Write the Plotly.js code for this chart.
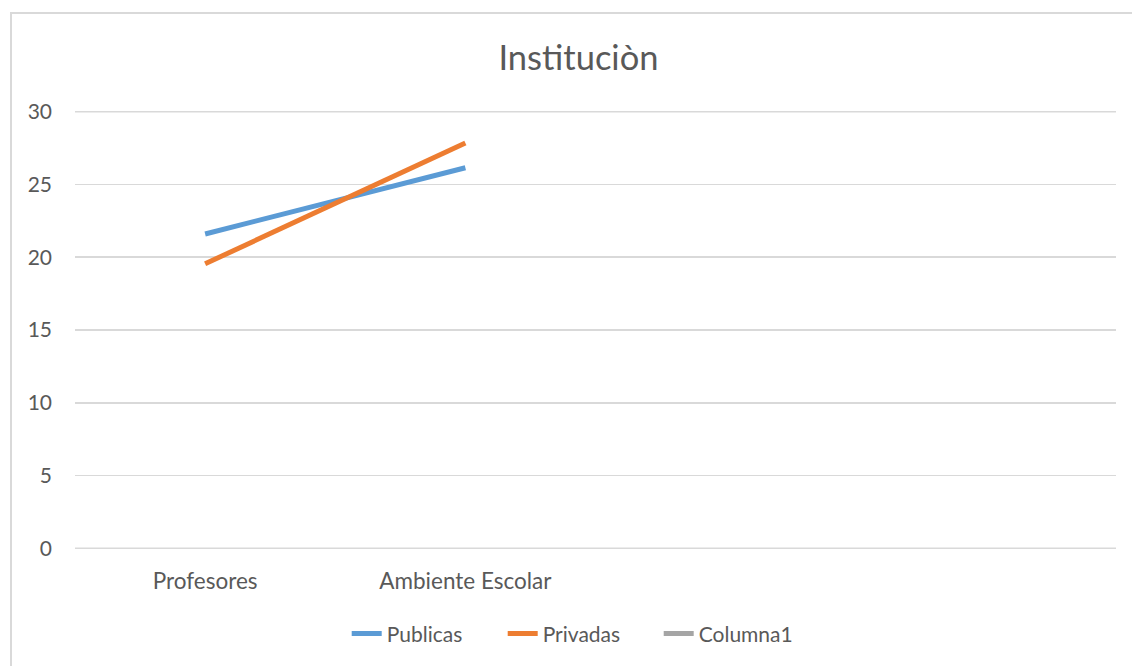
<!DOCTYPE html>
<html>
<head>
<meta charset="utf-8">
<script src="https://cdn.plot.ly/plotly-3.0.1.min.js"></script>
<style>
  html, body { margin: 0; padding: 0; background: #fff; }
  #frame { position: absolute; left: 10px; top: 12px; width: 1140px; height: 670px; border: 2px solid #d9d9d9; box-sizing: border-box; }
  #chart { position: absolute; left: 0; top: 0; width: 1132px; height: 666px; }
</style>
</head>
<body>
<div id="frame"></div>
<div id="chart"></div>
<script>
const categories = ["Profesores", "Ambiente Escolar"];
const publicas = [21.6, 26.15];
const privadas = [19.55, 27.85];
const columna1 = [null, null];
const yTicks = [0, 5, 10, 15, 20, 25, 30];

const font = "Lato, 'Open Sans', sans-serif";
const traces = [
  { name: "Publicas", x: categories, y: publicas, type: "scatter", mode: "lines",
    line: { color: "#5b9bd5", width: 5 } },
  { name: "Privadas", x: categories, y: privadas, type: "scatter", mode: "lines",
    line: { color: "#ed7d31", width: 5 } },
  { name: "Columna1", x: categories, y: columna1, type: "scatter", mode: "lines",
    line: { color: "#a5a5a5", width: 5 } }
];

// edge gridlines (Plotly omits gridlines lying on the plot-area border)
const edgeGrid = [yTicks[0], yTicks[yTicks.length - 1]].map(v => ({
  type: "line", xref: "paper", yref: "y", x0: 0, x1: 1, y0: v, y1: v,
  line: { color: "#d9d9d9", width: 1.5 }, layer: "below"
}));

const layout = {
  width: 1132, height: 666,
  paper_bgcolor: "rgba(0,0,0,0)", plot_bgcolor: "rgba(0,0,0,0)",
  margin: { l: 75, r: 16, t: 111, b: 113 },
  font: { family: font, color: "#595959", size: 21 },
  title: { text: "Instituciòn", x: 0.511, xanchor: "center", y: 0.913, yanchor: "middle",
    font: { family: font, size: 34.5, color: "#595959" } },
  xaxis: { type: "category", range: [-0.5, 3.5], showgrid: false, zeroline: false,
    showline: false, ticks: "", ticklabelstandoff: 16,
    tickfont: { size: 22.5, color: "#595959" }, fixedrange: true },
  yaxis: { range: [-0.05, 30.05], tickvals: yTicks, showgrid: true, gridcolor: "#d9d9d9", gridwidth: 1.5,
    zeroline: false, showline: false, ticks: "", ticklabelstandoff: 22,
    tickfont: { size: 21, color: "#595959" }, fixedrange: true },
  shapes: edgeGrid,
  showlegend: true,
  legend: { orientation: "h", x: 0.261, xanchor: "left", y: -0.1935, yanchor: "middle",
    font: { size: 21, color: "#595959" }, entrywidth: 111, entrywidthmode: "pixels",
    traceorder: "normal" }
};

Plotly.newPlot("chart", traces, layout, { displayModeBar: false, staticPlot: true });
</script>
</body>
</html>
